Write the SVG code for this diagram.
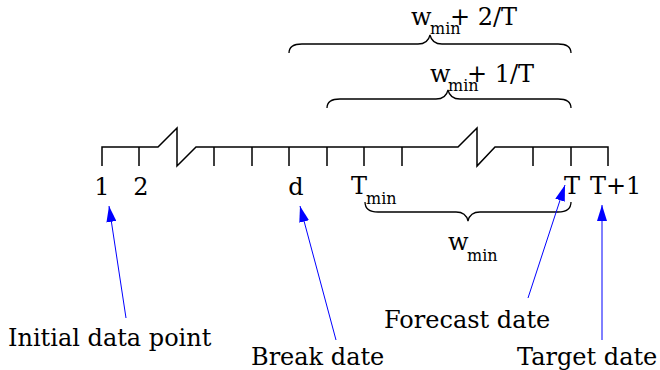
<svg xmlns="http://www.w3.org/2000/svg" width="660" height="370" viewBox="0 0 660 370">
<defs>
<style>
.t{font-family:"DejaVu Serif","Liberation Serif",serif;font-size:24px;fill:#000}
.s{font-size:16px}
.ax{fill:none;stroke:#000;stroke-width:1.5}
.br{fill:none;stroke:#000;stroke-width:1.3}
.ar{stroke:#0000ff;stroke-width:1;fill:none}
</style>
<marker id="ah" markerWidth="16" markerHeight="10" viewBox="0 0 16 10" refX="16" refY="5" orient="auto" markerUnits="userSpaceOnUse">
<path d="M0,0 L16,5 L0,10 z" fill="#0000ff"/>
</marker>
</defs>
<g id="timeline">
<path class="ax" d="M102,166 V147 H158 L177,128 V166 L196,147 H458 L477,128 V166 L495,147 H608 V166"/>
<path class="ax" d="M139,147 V166 M214,147 V166 M252,147 V166 M289,147 V166 M327,147 V166 M364,147 V166 M402,147 V166 M533,147 V166 M571,147 V166"/>
</g>
<g id="tick-labels">
<text class="t" x="102" y="195" text-anchor="middle">1</text>
<text class="t" x="141" y="195" text-anchor="middle">2</text>
<text class="t" x="296" y="195" text-anchor="middle">d</text>
<text class="t" x="351" y="194">T<tspan class="s" x="366" y="204">min</tspan></text>
<text class="t" x="564" y="194">T</text>
<text class="t" x="590" y="194">T+1</text>
</g>
<g id="brace-top">
<path class="br" d="M289,53 Q289,44 302,44 H418 Q428,44 430,35 Q432,44 442,44 H558 Q571,44 571,53"/>
<text class="t" x="411" y="25">w<tspan class="s" x="430" y="34">min</tspan><tspan x="450" y="25">+ 2/T</tspan></text>
</g>
<g id="brace-mid">
<path class="br" d="M327,108 Q327,99 340,99 H436 Q446,99 448,90 Q450,99 460,99 H558 Q571,99 571,108"/>
<text class="t" x="430" y="82">w<tspan class="s" x="448" y="91">min</tspan><tspan x="467" y="82">+ 1/T</tspan></text>
</g>
<g id="brace-bottom">
<path class="br" d="M365,202 Q365,212 378,212 H456 Q466,212 468,221 Q470,212 480,212 H558 Q571,212 571,202"/>
<text class="t" x="448" y="250">w<tspan class="s" x="467" y="261">min</tspan></text>
</g>
<g id="connectors">
<line class="ar" x1="126" y1="318" x2="109" y2="206" marker-end="url(#ah)"/>
<line class="ar" x1="336" y1="340" x2="300" y2="206" marker-end="url(#ah)"/>
<line class="ar" x1="528" y1="298" x2="565" y2="185" marker-end="url(#ah)"/>
<line class="ar" x1="602" y1="340" x2="602" y2="205" marker-end="url(#ah)"/>
</g>
<g id="callouts">
<text class="t" x="8" y="346">Initial data point</text>
<text class="t" x="251" y="365">Break date</text>
<text class="t" x="384" y="328">Forecast date</text>
<text class="t" x="517" y="365">Target date</text>
</g>
</svg>
